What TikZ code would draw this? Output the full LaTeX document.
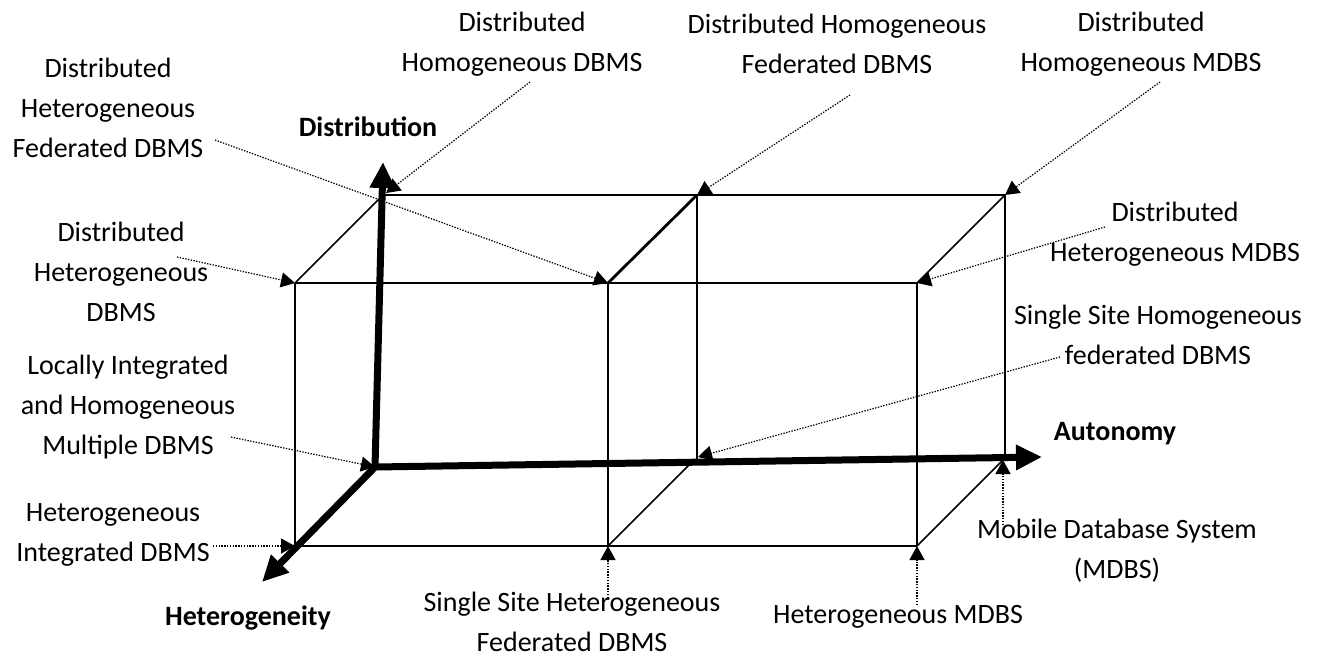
\documentclass[tikz,border=0pt]{standalone}
\usepackage{fontspec}
\setmainfont{Carlito}
\usetikzlibrary{arrows.meta}
\begin{document}
\begin{tikzpicture}[x=1pt,y=-1pt,
 lbl/.style={align=center,font=\fontsize{28}{40}\selectfont,inner sep=0pt},
 axlbl/.style={font=\fontsize{28}{34}\selectfont\bfseries,inner sep=0pt},
 edge/.style={line width=1.6pt},
 thickedge/.style={line width=2.8pt},
 axis/.style={line width=7pt,-{Triangle[length=26pt,width=24pt]}},
 pointer/.style={line width=1.2pt,dash pattern=on 1.4pt off 1.4pt,-{Triangle[length=14pt,width=15pt]}}]
\useasboundingbox (0,0) rectangle (1317,661);
% cube corners
\coordinate (FTL) at (295,283);
\coordinate (FTM) at (608,283);
\coordinate (FTR) at (917,283);
\coordinate (FBL) at (295,546);
\coordinate (FBM) at (608,546);
\coordinate (FBR) at (917,546);
\coordinate (BTL) at (383,195);
\coordinate (BTM) at (697,195);
\coordinate (BTR) at (1005,195);
\coordinate (BBM) at (697,462);
\coordinate (BBR) at (1005,458);
\coordinate (DBM) at (691,463);
\coordinate (DBR) at (1002,461);
\coordinate (O) at (375,467);
\coordinate (Dtip) at (383,162);
\coordinate (Atip) at (1042,457);
\coordinate (Htip) at (262,582);
% cube edges
\draw[edge] (FTL) -- (FTM);
\draw[edge] (FTM) -- (FTR);
\draw[edge] (FBL) -- (FBR);
\draw[edge] (FTL) -- (FBL);
\draw[thickedge] (FTM) -- (FBM);
\draw[edge] (FTR) -- (FBR);
\draw[edge] (BTL) -- (BTR);
\draw[edge] (BTM) -- (BBM);
\draw[edge] (BTR) -- (BBR);
\draw[edge] (FTL) -- (BTL);
\draw[thickedge] (FTM) -- (BTM);
\draw[edge] (FTR) -- (BTR);
\draw[edge] (FBM) -- (DBM);
\draw[edge] (FBR) -- (DBR);
% axes
\draw[axis] (O) -- (Dtip);
\draw[axis] (O) -- (Atip);
\draw[axis] (O) -- (Htip);
\node[axlbl] (dist) at (368,127) {Distribution};
\node[axlbl] (auto) at (1115,434) {Autonomy};
\node[axlbl] (het) at (248,618) {Heterogeneity};
% labels
\node[lbl] (l1) at (108,108) {Distributed\\Heterogeneous\\Federated DBMS};
\node[lbl] (l2) at (522,44) {Distributed\\Homogeneous DBMS};
\node[lbl] (l3) at (837,44) {Distributed Homogeneous\\Federated DBMS};
\node[lbl] (l4) at (1141,44) {Distributed\\Homogeneous MDBS};
\node[lbl] (l5) at (1175,234) {Distributed\\Heterogeneous MDBS};
\node[lbl] (l6) at (121,272) {Distributed\\Heterogeneous\\DBMS};
\node[lbl] (l7) at (1158,335) {Single Site Homogeneous\\federated DBMS};
\node[lbl] (l8) at (128,407) {Locally Integrated\\and Homogeneous\\Multiple DBMS};
\node[lbl] (l9) at (113,535) {Heterogeneous\\Integrated DBMS};
\node[lbl] (l10) at (572,622) {Single Site Heterogeneous\\Federated DBMS};
\node[lbl] (l11) at (898,617) {Heterogeneous MDBS};
\node[lbl] (l12) at (1117,551) {Mobile Database System\\(MDBS)};
% pointer start points
\coordinate (s1) at (215,140);
\coordinate (s2) at (530,82);
\coordinate (s3) at (850,95);
\coordinate (s4) at (1160,82);
\coordinate (s5) at (1105,227);
\coordinate (s6) at (177,257);
\coordinate (s7) at (1060,357);
\coordinate (s8) at (231,437);
\coordinate (s9) at (213,546);
\coordinate (s10) at (608,598);
\coordinate (s11) at (917,605);
\coordinate (s12) at (1003,525);
\coordinate (t2) at (386,193);
\coordinate (t7) at (698,457);
\coordinate (t12) at (1003,460);
\draw[pointer] (s1) -- (FTM);
\draw[pointer] (s2) -- (t2);
\draw[pointer] (s3) -- (BTM);
\draw[pointer] (s4) -- (BTR);
\draw[pointer] (s5) -- (FTR);
\draw[pointer] (s6) -- (FTL);
\draw[pointer] (s7) -- (t7);
\draw[pointer] (s8) -- (O);
\draw[pointer] (s9) -- (FBL);
\draw[pointer] (s10) -- (FBM);
\draw[pointer] (s11) -- (FBR);
\draw[pointer] (s12) -- (t12);
\end{tikzpicture}
\end{document}
